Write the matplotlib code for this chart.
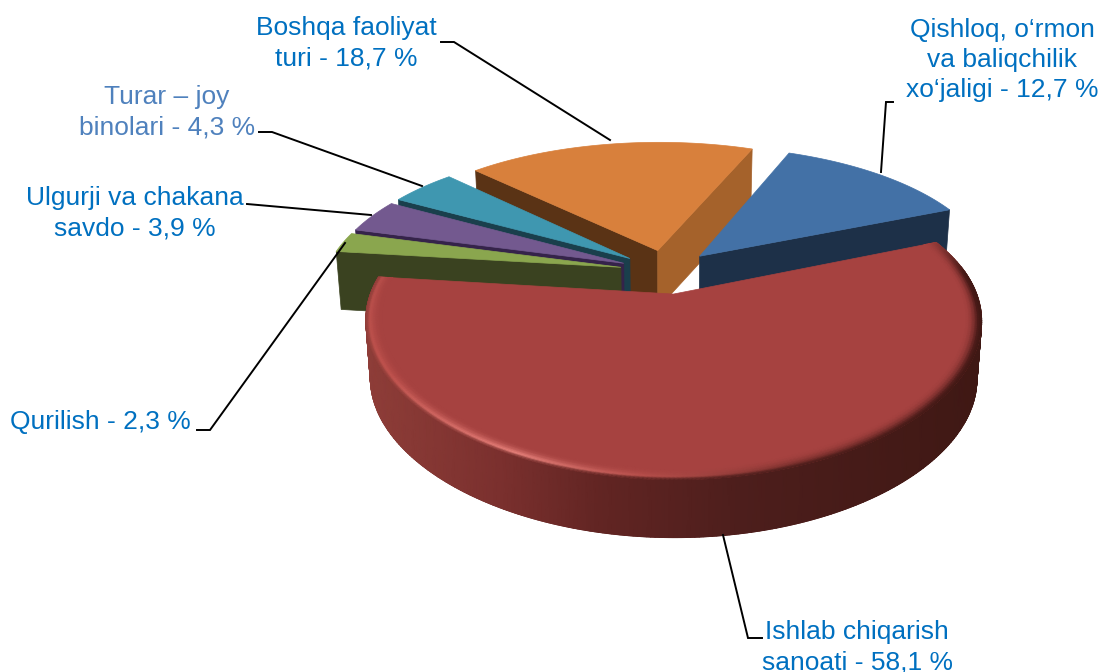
import numpy as np
import matplotlib
matplotlib.use('Agg')
import matplotlib.pyplot as plt
from matplotlib.colors import to_rgb

# clockwise from the big slice
labels = ['Ishlab chiqarish\nsanoati - 58,1 %', 'Qurilish - 2,3 %', 'Ulgurji va chakana\nsavdo - 3,9 %',
          'Turar – joy\nbinolari - 4,3 %', 'Boshqa faoliyat\nturi - 18,7 %',
          'Qishloq, o‘rmon\nva baliqchilik\nxo‘jaligi - 12,7 %']
values = [58.1, 2.3, 3.9, 4.3, 18.7, 12.7]
top_colors = ['#a64240', '#8aa64e', '#73598f', '#3f97b0', '#d8803c', '#4371a6']
hi_wall = ['#6a2a28', '#3a4220', '#35234a', '#1a3f4c', '#5a3315', '#1d3048']
lo_wall = ['#6a2a28', '#3a4220', '#35234a', '#1a3f4c', '#a5622b', '#1d3048']
text_colors = ['#0070c0', '#0070c0', '#0070c0', '#4f81bd', '#0070c0', '#0070c0']
label_xy = [(857, 647), (100, 422), (135, 213), (167, 112), (346, 43), (1002, 60)]

start_angle = 22.3
explode = 0.16
cx, cy = 667, 271.5
f, g, k, kx = 295, 137.7, 0.2015, 0.17
depth = 58

# wall shade by screen x, rim light by angle
wall_x = [368, 500, 600, 740, 980]
wall_c = ['#8e3d38', '#7b302e', '#622523', '#4d1e1c', '#3f1814']
rim_t = [-190, -150, -116, -95, -70, -40, 0, 25]
rim_c = ['#b84f4b', '#c2544f', '#e8827c', '#b8504c', '#7a302d', '#5a2220', '#4a1a18', '#6a2a28']


def project(X, Y):
    return cx + f * X / (1 + kx * Y), cy - g * Y / (1 + k * Y)


def lerp_colors(v, xs, cs):
    arr = np.array([to_rgb(c) for c in cs])
    return np.stack([np.interp(v, xs, arr[:, i]) for i in range(3)], axis=-1)


def to_bottom(x, y):
    return cx + (x - cx) * 0.985, y + depth


def rim_points(ox, oy, ts, r=1.0):
    rad = np.radians(ts)
    return project(ox + r * np.cos(rad), oy + r * np.sin(rad))


fig = plt.figure(figsize=(11, 6.72), dpi=100)
ax = fig.add_axes([0, 0, 1, 1])
ax.set_xlim(0, 1100)
ax.set_ylim(672, 0)
ax.axis('off')

# slice angle ranges, going clockwise
spans = np.array(values) / sum(values) * 360
ends = start_angle - np.cumsum(spans)
starts = ends + spans

# painter order: far slices first, big one last
for i in [4, 5, 3, 2, 1, 0]:
    hi, lo = starts[i], ends[i]
    mid = np.radians((hi + lo) / 2)
    ox, oy = explode * np.cos(mid), explode * np.sin(mid)
    ts = np.linspace(hi, lo, 300)
    ax_x, ax_y = project(ox, oy)
    rx, ry = rim_points(ox, oy, ts)

    # outer wall, with a plain outline first so the edge stays smooth
    if i == 0:
        keep = np.sin(np.radians(ts)) < 0.2
        bx, by = to_bottom(rx[keep], ry[keep])
        ax.fill(np.r_[rx[keep], bx[::-1]], np.r_[ry[keep], by[::-1]], color='#5f2523', lw=0.5)
        mx = np.vstack([rx[keep], bx])
        my = np.vstack([ry[keep], by])
        ax.pcolormesh(mx, my, lerp_colors(mx, wall_x, wall_c), shading='gouraud')

    # radial walls facing the viewer
    for ang, normal, col in [(hi, hi + 90, hi_wall[i]), (lo, lo - 90, lo_wall[i])]:
        if np.sin(np.radians(normal)) < 0:
            ex, ey = rim_points(ox, oy, np.array([ang]))
            b1 = to_bottom(ax_x, ax_y)
            b2 = to_bottom(ex[0], ey[0])
            ax.fill([ax_x, ex[0], b2[0], b1[0]], [ax_y, ey[0], b2[1], b1[1]], color=col, lw=0.5)

    # top face
    ax.fill(np.r_[ax_x, rx], np.r_[ax_y, ry], color=top_colors[i], lw=0.5)

    # bevelled rim on the big slice
    if i == 0:
        ring_r = np.array([0.95, 0.96, 0.97, 0.98, 0.988, 0.994, 1.0])
        base = np.array(to_rgb(top_colors[0]))
        rim = lerp_colors(ts, rim_t, rim_c)
        wall_top = lerp_colors(rx, wall_x, wall_c)
        fade = np.clip((0.45 - np.sin(np.radians(ts))) / 0.3, 0, 1)[:, None]
        mx, my, mc = [], [], []
        for r in ring_r:
            xr, yr = rim_points(ox, oy, ts, r)
            if r < 0.988:
                w = ((r - 0.95) / 0.038) ** 2
                c = base * (1 - w) + rim * w
            else:
                w = (r - 0.988) / 0.012
                c = rim * (1 - w) + wall_top * w
            mx.append(xr)
            my.append(yr)
            mc.append(base * (1 - fade) + c * fade)
        ax.pcolormesh(np.array(mx), np.array(my), np.array(mc), shading='gouraud')

# leader lines
leaders = [
    ([441, 454, 610], [42, 42, 140]),
    ([893, 886, 881], [102, 102, 172]),
    ([259, 272, 422], [132, 132, 186]),
    ([247, 371], [204, 215]),
    ([197, 210, 345], [430, 430, 243]),
    ([762, 748, 723], [638, 638, 535]),
]
for xs, ys in leaders:
    ax.plot(xs, ys, color='black', lw=1.4, solid_joinstyle='miter')

for lab, (x, y), col in zip(labels, label_xy, text_colors):
    ax.text(x, y, lab, ha='center', va='center', ma='center', color=col, fontsize=19,
            family='Liberation Sans', linespacing=1.32)

plt.savefig('out.png', dpi=100)
